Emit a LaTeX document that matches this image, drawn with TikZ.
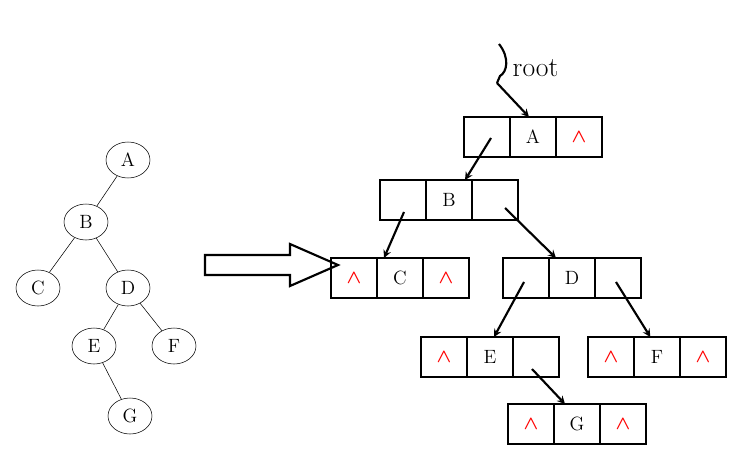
\documentclass[tikz,border=0pt]{standalone}
\usepackage{amssymb}
\usepackage{amsmath}
\usetikzlibrary{positioning,shapes.geometric}
\tikzset{
  vtx/.style={draw, ellipse, minimum width=33pt, minimum height=27pt, inner sep=0pt, font=\Large},
  cell/.style={draw, line width=1.6pt, outer sep=0pt, minimum width=34.5pt, minimum height=30pt, inner sep=0pt, font=\Large},
  ptr/.style={->, >=stealth, line width=1.6pt},
}
\newcommand{\nil}{\textcolor{red}{$\boldsymbol{\wedge}$}}
% three-cell list node: name, centre, label, left, right
\newcommand{\lnode}[5]{%
  \node[cell] (#1) at #2 {#3};
  \node[cell, left=0pt of #1] (#1l) {#4};
  \node[cell, right=0pt of #1] (#1r) {#5};}
\begin{document}
\begin{tikzpicture}[x=0.75pt, y=-0.75pt]
        \useasboundingbox (0,0) rectangle (737,453);

        % binary tree
        \node[vtx] (a) at (128,160) {A};
        \node[vtx] (b) at (86,222) {B};
        \node[vtx] (c) at (38,288) {C};
        \node[vtx] (d) at (128,288) {D};
        \node[vtx] (e) at (94,346) {E};
        \node[vtx] (f) at (174,346) {F};
        \node[vtx] (g) at (130,416) {G};
        \draw (a) -- (b);
        \draw (b) -- (c);
        \draw (b) -- (d);
        \draw (d) -- (e);
        \draw (d) -- (f);
        \draw (e) -- (g);

        % big arrow
        \draw[line width=1.6pt] (205,255) -- (290,255) -- (290,244) -- (338,265)
            -- (290,286) -- (290,275) -- (205,275) -- cycle;

        % linked representation
        \lnode{A}{(533,137)}{A}{}{\nil}
        \lnode{B}{(449,200)}{B}{}{}
        \lnode{C}{(400,278)}{C}{\nil}{\nil}
        \lnode{D}{(572,278)}{D}{}{}
        \lnode{E}{(490,357)}{E}{\nil}{}
        \lnode{F}{(657,357)}{F}{\nil}{\nil}
        \lnode{G}{(577,424)}{G}{\nil}{\nil}

        \draw[ptr] ([shift={(4,1)}]Al.center) -- ([xshift=12]B.north);
        \draw[ptr] ([shift={(1,12)}]Bl.center) -- ([xshift=-12]C.north);
        \draw[ptr] ([shift={(10,8)}]Br.center) -- ([xshift=-12]D.north);
        \draw[ptr] ([shift={(-2,4)}]Dl.center) -- ([xshift=3]E.north);
        \draw[ptr] ([shift={(-2,4)}]Dr.center) -- ([xshift=-5]F.north);
        \draw[ptr] ([shift={(-4,12)}]Er.center) -- ([xshift=-9]G.north);

        % root pointer
        \coordinate (rt) at (497,83);
        \draw[line width=1.6pt] (499,44) .. controls (510,58) and (507,72) .. (500,76)
            -- (rt);
        \draw[ptr] (rt) -- ([xshift=-3]A.north);
        \node[font=\huge, anchor=west] (root) at (508,68) {root};
\end{tikzpicture}
\end{document}
